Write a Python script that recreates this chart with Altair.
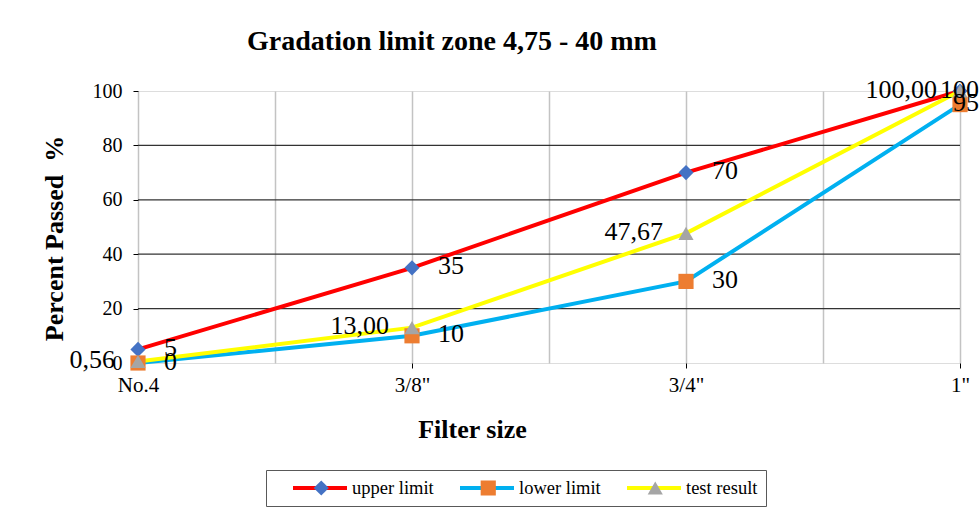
import altair as alt
import pandas as pd

categories = ['No.4', '3/8"', '3/4"', '1"']
upper_limit = [5, 35, 70, 100]
lower_limit = [0, 10, 30, 95]
test_result = [0.56, 13.00, 47.67, 100.00]
series_names = ['upper limit', 'lower limit', 'test result']
line_colors = ['#ff0000', '#00b0f0', '#ffff00']
marker_colors = ['#4472c4', '#ed7d31', '#a5a5a5']
marker_shapes = ['diamond', 'square', 'triangle-up']
y_ticks = [0, 20, 40, 60, 80, 100]
y_grid = [20, 40, 60, 80]
x_grid = [0, 0.5, 1, 1.5, 2, 2.5, 3]

rows = []
for name, vals in zip(series_names, [upper_limit, lower_limit, test_result]):
    for i, (c, v) in enumerate(zip(categories, vals)):
        lab = f"{v:.2f}".replace('.', ',') if name == 'test result' else f"{v:g}"
        rows.append({'series': name, 'marker': name, 'idx': i,
                     'size': c, 'value': v, 'label': lab})
df = pd.DataFrame(rows)
grid_df = pd.DataFrame({'value': y_grid})
last = len(categories) - 1

FONT = 'Liberation Serif'
cat_array = '[' + ','.join("'" + c + "'" for c in categories) + ']'

x_enc = alt.X(
    'idx:Q',
    scale=alt.Scale(domain=[0, last], nice=False, zero=False),
    axis=alt.Axis(
        values=x_grid,
        labelExpr=f"datum.value % 1 == 0 ? {cat_array}[datum.value] : ''",
        labelFlush=False, labelOverlap=False,
        grid=True, gridColor='#c3c3c3', gridWidth=1.5,
        domain=False,
        ticks=True, tickSize=5, tickColor='black', tickWidth=1,
        tickOpacity={'condition': {'test': 'datum.value % 1 != 0', 'value': 0}, 'value': 1},
        labelFont=FONT, labelFontSize=21, labelColor='black', labelPadding=6,
        title='Filter size', titleFont=FONT, titleFontSize=26, titleFontWeight='bold',
        titleColor='black', titleX=334, titleY=74, titleAlign='center',
        titleBaseline='alphabetic',
    ),
)
y_enc = alt.Y(
    'value:Q',
    scale=alt.Scale(domain=[0, 100], nice=False),
    axis=alt.Axis(
        values=y_ticks,
        grid=False,
        domain=False,
        tickSize=5, tickColor='black',
        labelFont=FONT, labelFontSize=20, labelColor='black', labelPadding=11,
        title='Percent Passed\u00a0 %', titleFont=FONT, titleFontSize=26,
        titleFontWeight='bold', titleColor='black', titleAngle=270,
        titleX=-76, titleY=147, titleAlign='center', titleBaseline='alphabetic',
    ),
)

common_legend = dict(
    orient='none', legendX=128, legendY=379, direction='horizontal', columns=3,
    gridAlign='all', title='\u00a0', titleOrient='left', titleFont=FONT,
    titleFontSize=18, titlePadding=17, labelFont=FONT, labelFontSize=18.5,
    labelColor='black', clipHeight=20, padding=8, columnPadding=24,
)

line_legend = alt.Legend(
    symbolType='stroke', symbolSize=2916, symbolStrokeWidth=4, labelOffset=3,
    strokeColor='#595959', fillColor='white', zindex=1, **common_legend,
)
marker_legend = alt.Legend(
    symbolSize=230, symbolStrokeWidth=0, symbolOffset=21, labelOffset=21,
    labelOpacity=0, zindex=2, **common_legend,
)

base = alt.Chart(df)

hgrid = alt.Chart(grid_df).mark_rule(color='#333333', strokeWidth=1.2).encode(
    y='value:Q'
)

lines = base.mark_line(strokeWidth=4).encode(
    x=x_enc, y=y_enc,
    stroke=alt.Stroke('series:N', sort=series_names,
                      scale=alt.Scale(range=line_colors),
                      legend=line_legend),
)

points = base.mark_point(filled=True, size=230, opacity=1).encode(
    x='idx:Q', y='value:Q',
    color=alt.Color('marker:N',
                    scale=alt.Scale(domain=series_names, range=marker_colors),
                    legend=marker_legend),
    shape=alt.Shape('marker:N',
                    scale=alt.Scale(domain=series_names, range=marker_shapes),
                    legend=marker_legend),
)

txt = dict(font=FONT, fontSize=26, color='black', baseline='alphabetic', dy=6.5)

right_labels = base.transform_filter(
    f"datum.series != 'test result' && datum.idx < {last}"
).mark_text(align='left', dx=26, **txt).encode(x='idx:Q', y='value:Q', text='label:N')

edge_labels = base.transform_filter(
    f"datum.series != 'test result' && datum.idx == {last}"
).mark_text(align='right', dx=19, **txt).encode(x='idx:Q', y='value:Q', text='label:N')

test_labels = base.transform_filter(
    "datum.series == 'test result'"
).mark_text(align='right', dx=-23, **txt).encode(x='idx:Q', y='value:Q', text='label:N')

chart = alt.layer(hgrid, lines, points, right_labels, edge_labels, test_labels).properties(
    width=822, height=272,
    autosize=alt.AutoSizeParams(type='none'),
    padding={'left': 138, 'top': 91, 'right': 20, 'bottom': 168},
    title=alt.TitleParams(
        'Gradation limit zone 4,75 - 40 mm', font=FONT, fontSize=28,
        fontWeight='bold', color='black', anchor='middle', dx=-97,
        baseline='alphabetic', offset=-1,
    ),
).configure_view(
    fill='#d9d9d9', stroke='black', strokeWidth=2.5,
).configure(background='white')

chart.save("out.html", embed_options={"renderer": "svg", "actions": False})
